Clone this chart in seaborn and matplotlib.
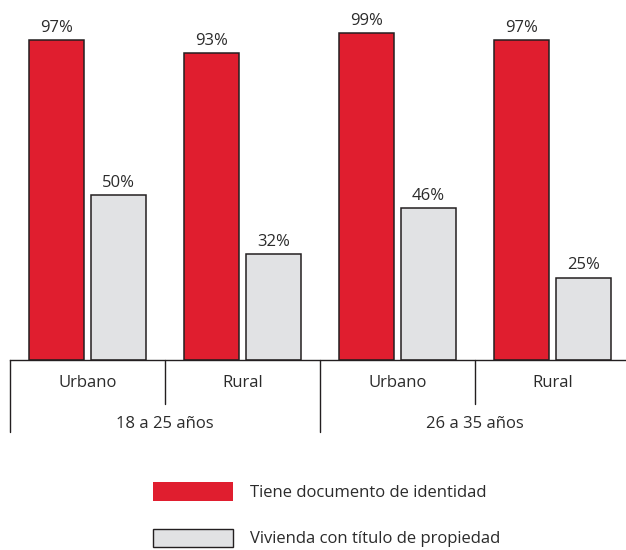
import pandas as pd
import seaborn as sns
import matplotlib.pyplot as plt
from matplotlib.patches import Patch

# data
grupos = ["18 a 25 años", "18 a 25 años", "26 a 35 años", "26 a 35 años"]
zonas = ["Urbano", "Rural", "Urbano", "Rural"]
documento = [97, 93, 99, 97]
vivienda = [50, 32, 46, 25]
series = ["Tiene documento de identidad", "Vivienda con título de propiedad"]
colores = ["#E01E2F", "#E1E2E4"]

keys = [f"{g} {z}" for g, z in zip(grupos, zonas)]
df = pd.DataFrame({
    "clave": keys * 2,
    "serie": [series[0]] * 4 + [series[1]] * 4,
    "valor": documento + vivienda,
})

sns.set_style("white")
plt.rcParams["font.family"] = ["Open Sans", "DejaVu Sans"]
txt = "#2b2b2b"
fs = 12

fig = plt.figure(figsize=(6.26, 5.5), dpi=100)
ymax = 105
ax = fig.add_axes([10 / 626, 190 / 550, 620 / 626, 330 * ymax / 100 / 550])

sns.barplot(data=df, x="clave", y="valor", hue="serie", palette=colores,
            saturation=1, width=0.8, gap=0.1, edgecolor="#231F20",
            linewidth=1.1, legend=False, ax=ax)

for cont in ax.containers:
    ax.bar_label(cont, fmt="{:.0f}%", padding=3, fontsize=fs, color=txt)

ax.set_xlim(-0.5, 3.5)
ax.set_ylim(0, ymax)
ax.set_xlabel("")
ax.set_ylabel("")
ax.set_xticks([])
ax.set_yticks([])
for s in ["top", "right", "left"]:
    ax.spines[s].set_visible(False)
ax.spines["bottom"].set_color("#231F20")
ax.spines["bottom"].set_linewidth(1.0)

# two-level category axis
h = ax.get_position().height * 550
tr = ax.get_xaxis_transform()
for i, z in enumerate(zonas):
    ax.text(i, -23 / h, z, transform=tr, ha="center", va="center",
            fontsize=fs, color=txt)
for x0, largo in [(-0.5, 72), (0.5, 44), (1.5, 72), (2.5, 44)]:
    ax.plot([x0, x0], [0, -largo / h], transform=tr, color="#231F20",
            lw=1.0, clip_on=False)
for j, g in enumerate([grupos[0], grupos[2]]):
    ax.text(j * 2 + 0.5, -64 / h, g, transform=tr, ha="center", va="center",
            fontsize=fs, color=txt)

handles = [Patch(facecolor=colores[0], edgecolor="none"),
           Patch(facecolor=colores[1], edgecolor="#231F20", linewidth=1.0)]
fig.legend(handles, series, loc="upper left",
           bbox_to_anchor=(145 / 626, 1 - 474 / 550), frameon=False,
           fontsize=fs, handlelength=4.75, handleheight=1.3,
           handletextpad=1.05, labelspacing=1.65, borderpad=0,
           labelcolor=txt)

fig.savefig("out.png", dpi=100)
